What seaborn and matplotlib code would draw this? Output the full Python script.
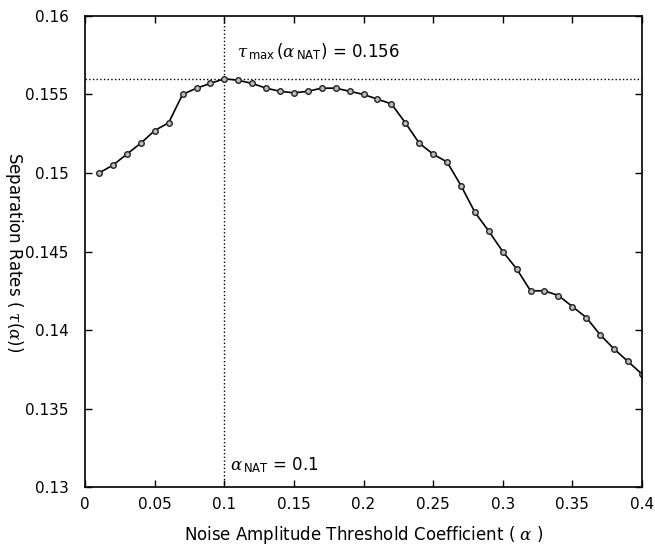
import numpy as np
import pandas as pd
import matplotlib
matplotlib.use("Agg")
import matplotlib.pyplot as plt
import seaborn as sns

alpha = [0.01, 0.02, 0.03, 0.04, 0.05, 0.06, 0.07, 0.08, 0.09, 0.10,
         0.11, 0.12, 0.13, 0.14, 0.15, 0.16, 0.17, 0.18, 0.19, 0.20,
         0.21, 0.22, 0.23, 0.24, 0.25, 0.26, 0.27, 0.28, 0.29, 0.30,
         0.31, 0.32, 0.33, 0.34, 0.35, 0.36, 0.37, 0.38, 0.39, 0.40]
rates = [0.1500, 0.1505, 0.1512, 0.1519, 0.1527, 0.1532, 0.1550, 0.1554, 0.1557, 0.1560,
         0.1559, 0.1557, 0.1554, 0.1552, 0.1551, 0.1552, 0.1554, 0.1554, 0.1552, 0.1550,
         0.1547, 0.1544, 0.1532, 0.1519, 0.1512, 0.1507, 0.1492, 0.1475, 0.1463, 0.1450,
         0.1439, 0.1425, 0.1425, 0.1422, 0.1415, 0.1408, 0.1397, 0.1388, 0.1380, 0.1372]
alpha_nat = 0.1
tau_max = 0.156
xticks = [0, 0.05, 0.1, 0.15, 0.2, 0.25, 0.3, 0.35, 0.4]
yticks = [0.13, 0.135, 0.14, 0.145, 0.15, 0.155, 0.16]

sns.set_style("ticks", {"axes.edgecolor": "black", "text.color": "black",
                        "xtick.color": "black", "ytick.color": "black"})
plt.rcParams['font.family'] = ['DejaVu Sans']
plt.rcParams['mathtext.fontset'] = 'custom'
plt.rcParams['mathtext.rm'] = 'DejaVu Sans'
plt.rcParams['mathtext.it'] = 'DejaVu Serif:italic'

df = pd.DataFrame({"alpha": alpha, "rate": rates})

fig = plt.figure(figsize=(6.55, 5.48), dpi=100)
ax = fig.add_axes([0.13, 0.111, 0.85, 0.86])

ax.axhline(tau_max, color='black', linestyle=':', linewidth=1.0)
ax.axvline(alpha_nat, color='black', linestyle=':', linewidth=1.0)

sns.lineplot(data=df, x="alpha", y="rate", ax=ax, color='black', linewidth=1.2,
             marker='o', markersize=4, markerfacecolor='#bbbbbb',
             markeredgecolor='#222222', markeredgewidth=1.0)

ax.set_xlim(0, 0.4)
ax.set_ylim(0.13, 0.16)
ax.set_xticks(xticks)
ax.set_xticklabels([f"{t:g}" for t in xticks])
ax.set_yticks(yticks)
ax.set_yticklabels([f"{t:g}" for t in yticks])
ax.tick_params(direction='in', top=True, right=True, length=5, labelsize=11, width=1,
               colors='black')
ax.tick_params(axis='x', pad=7)
ax.tick_params(axis='y', pad=12)
for s in ax.spines.values():
    s.set_linewidth(1.2)
    s.set_color('black')
ax.set_xlabel("")
ax.set_ylabel("")

ax.text(0.109, 0.1577, r"$\tau_{\,\mathrm{max}}\,(\alpha_{\,\mathrm{NAT}})$ = 0.156",
        fontsize=12, va='center', ha='left', color='black')
ax.text(0.104, 0.1314, r"$\alpha_{\,\mathrm{NAT}}$ = 0.1", fontsize=12, va='center',
        ha='left', color='black')

fig.text(0.556, 0.024, r"Noise Amplitude Threshold Coefficient ( $\alpha$ )",
         fontsize=12, ha='center', va='center', color='black')
fig.text(0.021, 0.54, r"Separation Rates ( $\tau(\alpha)$)",
         fontsize=12, ha='center', va='center', rotation=270, color='black')

fig.savefig("out.png", dpi=100)
